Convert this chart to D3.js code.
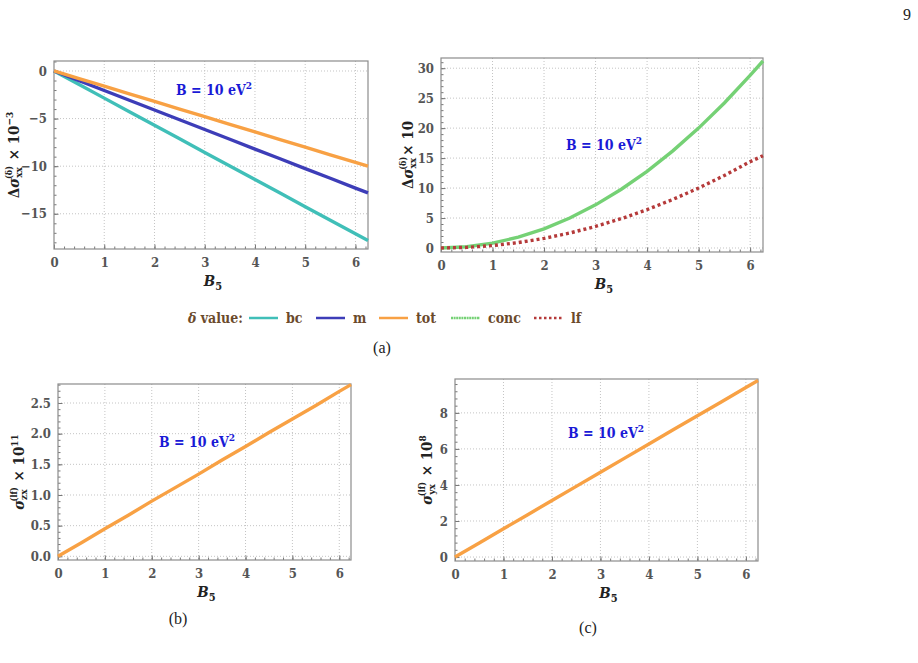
<!DOCTYPE html>
<html>
<head>
<meta charset="utf-8">
<script src="https://cdn.jsdelivr.net/npm/d3@7"></script>
<style>
  body { margin: 0; background: #fff; }
  svg { display: block; }
</style>
</head>
<body>
<div class="chart"></div>
<script>
// data
let b5 = [0, 0.5, 1, 1.5, 2, 2.5, 3, 3.5, 4, 4.5, 5, 5.5, 6, 6.25];
let bcValues   = [0, -1.42, -2.85, -4.27, -5.7, -7.12, -8.55, -9.97, -11.4, -12.82, -14.25, -15.67, -17.1, -17.8];
let mValues    = [0, -1.02, -2.05, -3.07, -4.1, -5.12, -6.15, -7.17, -8.2, -9.22, -10.25, -11.27, -12.3, -12.8];
let totValues  = [0, -0.8, -1.6, -2.4, -3.2, -4.0, -4.8, -5.6, -6.4, -7.2, -8.0, -8.8, -9.6, -10.0];
let concValues = [0, 0.2, 0.8, 1.8, 3.2, 5.0, 7.2, 9.8, 12.8, 16.2, 20.0, 24.2, 28.8, 31.2];
let lfValues   = [0, 0.1, 0.4, 0.9, 1.6, 2.5, 3.6, 4.9, 6.4, 8.1, 10.0, 12.1, 14.4, 15.4];
let zxValues   = [0, 0.22, 0.45, 0.67, 0.9, 1.12, 1.34, 1.57, 1.79, 2.02, 2.24, 2.46, 2.69, 2.8];
let yxValues   = [0, 0.78, 1.57, 2.35, 3.14, 3.92, 4.71, 5.49, 6.27, 7.06, 7.84, 8.62, 9.41, 9.8];

let xTicks = [0, 1, 2, 3, 4, 5, 6];
let yTicksA = [0, -5, -10, -15];
let yTicksConc = [0, 5, 10, 15, 20, 25, 30];
let yTicksZx = [0, 0.5, 1.0, 1.5, 2.0, 2.5];
let yTicksYx = [0, 2, 4, 6, 8];

let legendNames = ['bc', 'm', 'tot', 'conc', 'lf'];
let colors = {
  bc: '#40bfb8', m: '#3d3db8', tot: '#f8a144', conc: '#75d175', lf: '#b53a3a'
};

let tickFont = '"DejaVu Serif Condensed", "DejaVu Serif", serif';

let svg = d3.select('.chart').append('svg')
  .attr('width', 918)
  .attr('height', 663);

function drawPanel(p) {
  let x = d3.scaleLinear().domain([0, 6.25]).range([p.left, p.right]);
  let y = d3.scaleLinear().domain(p.yDomain).range([p.bottom, p.top]);
  let g = svg.append('g');

  // dotted grid
  g.append('g')
    .selectAll('line.gx')
    .data(xTicks.filter(d => d > 0))
    .enter().append('line')
    .attr('x1', d => x(d)).attr('x2', d => x(d))
    .attr('y1', p.top).attr('y2', p.bottom)
    .attr('stroke', '#c4c4c4').attr('stroke-width', 1)
    .attr('stroke-dasharray', '1,2');
  g.append('g')
    .selectAll('line.gy')
    .data(p.yTicks)
    .enter().append('line')
    .attr('x1', p.left).attr('x2', p.right)
    .attr('y1', d => y(d)).attr('y2', d => y(d))
    .attr('stroke', '#c4c4c4').attr('stroke-width', 1)
    .attr('stroke-dasharray', '1,2');

  // minor ticks (inside)
  let minorX = d3.range(0, 6.25, 0.2);
  g.append('g')
    .attr('transform', 'translate(0,' + p.bottom + ')')
    .call(d3.axisBottom(x).tickValues(minorX).tickSize(-2.5).tickFormat(''))
    .call(a => a.select('.domain').remove())
    .selectAll('line').attr('stroke', '#777');
  let minorY = d3.range(Math.ceil(p.yDomain[0] / p.minorStep) * p.minorStep, p.yDomain[1], p.minorStep);
  g.append('g')
    .attr('transform', 'translate(' + p.left + ',0)')
    .call(d3.axisLeft(y).tickValues(minorY).tickSize(-2.5).tickFormat(''))
    .call(a => a.select('.domain').remove())
    .selectAll('line').attr('stroke', '#777');

  // major axes
  let xAxis = g.append('g')
    .attr('transform', 'translate(0,' + p.bottom + ')')
    .call(d3.axisBottom(x).tickValues(xTicks).tickSize(-4.5).tickPadding(9).tickFormat(d3.format('d')));
  let yAxis = g.append('g')
    .attr('transform', 'translate(' + p.left + ',0)')
    .call(d3.axisLeft(y).tickValues(p.yTicks).tickSize(-4.5).tickPadding(7).tickFormat(p.format));
  [xAxis, yAxis].forEach(a => {
    a.attr('font-family', null).attr('font-size', null);
    a.select('.domain').remove();
    a.selectAll('line').attr('stroke', '#777');
    a.selectAll('text')
      .style('font-family', tickFont)
      .style('font-weight', 'bold')
      .style('font-size', '13px')
      .attr('fill', '#555');
  });

  // frame
  g.append('rect')
    .attr('x', p.left).attr('y', p.top)
    .attr('width', p.right - p.left).attr('height', p.bottom - p.top)
    .attr('fill', 'none').attr('stroke', '#8c8c8c').attr('stroke-width', 1.2);

  // curves
  let line = d3.line().x((d, i) => x(b5[i])).y(d => y(d));
  p.series.forEach(s => {
    g.append('path')
      .datum(s.values)
      .attr('d', line)
      .attr('fill', 'none')
      .attr('stroke', s.color)
      .attr('stroke-width', 3.4)
      .attr('stroke-dasharray', s.dash || null);
  });

  // B label
  let lab = g.append('text')
    .attr('x', p.labelX).attr('y', p.labelY)
    .attr('text-anchor', 'middle')
    .style('font-family', tickFont)
    .style('font-weight', 'bold')
    .style('font-size', '14px')
    .attr('fill', '#1a1ad6');
  lab.append('tspan').text('B = 10 eV');
  lab.append('tspan').text('2').style('font-size', '10px').attr('dy', -6);

  // x title
  let xt = g.append('text')
    .attr('x', (p.left + p.right) / 2 + 2).attr('y', p.bottom + 37)
    .attr('text-anchor', 'middle')
    .style('font-family', tickFont)
    .style('font-weight', 'bold')
    .style('font-size', '15px')
    .attr('fill', '#222');
  xt.append('tspan').text('B').style('font-style', 'italic');
  xt.append('tspan').text('5').style('font-size', '11px').attr('dy', 4);

  // y title
  let yt = g.append('text')
    .attr('transform', 'translate(' + p.yTitleX + ',' + (p.top + p.bottom) / 2 + ') rotate(-90)')
    .attr('text-anchor', 'middle')
    .style('font-family', tickFont)
    .style('font-weight', 'bold')
    .style('font-size', '15px')
    .attr('fill', '#222');
  p.yTitle(yt);
}

function sigmaTitle(pre, sub, sup, tail, tailSup) {
  return function(t) {
    if (pre) t.append('tspan').text(pre);
    t.append('tspan').text('σ').style('font-style', 'italic');
    t.append('tspan').text(sub).style('font-size', '10px').attr('dy', 3);
    t.append('tspan').text(sup).style('font-size', '9px').attr('dx', -sub.length * 6).attr('dy', -10);
    t.append('tspan').text(tail).attr('dy', 7).attr('dx', 1);
    if (tailSup) t.append('tspan').text(tailSup).style('font-size', '10px').attr('dy', -6);
  };
}

drawPanel({
  left: 54, right: 368, top: 61, bottom: 249,
  yDomain: [-18.7, 1.05], yTicks: yTicksA, minorStep: 1, format: d => d3.format('d')(d).replace('-', '−'),
  series: [
    { values: bcValues, color: colors.bc },
    { values: mValues, color: colors.m },
    { values: totValues, color: colors.tot }
  ],
  labelX: 214, labelY: 95, yTitleX: 19,
  yTitle: sigmaTitle('Δ', 'xx', '(δ)', ' × 10', '−3')
});

drawPanel({
  left: 441, right: 763, top: 58, bottom: 252,
  yDomain: [-0.67, 31.7], yTicks: yTicksConc, minorStep: 1, format: d3.format('d'),
  series: [
    { values: concValues, color: colors.conc },
    { values: lfValues, color: colors.lf, dash: '3,3' }
  ],
  labelX: 604, labelY: 150, yTitleX: 413,
  yTitle: sigmaTitle('Δ', 'xx', '(δ)', '× 10', null)
});

drawPanel({
  left: 58, right: 351, top: 384, bottom: 560,
  yDomain: [-0.06, 2.81], yTicks: yTicksZx, minorStep: 0.1, format: d3.format('.1f'),
  series: [{ values: zxValues, color: colors.tot }],
  labelX: 197, labelY: 447, yTitleX: 24,
  yTitle: sigmaTitle(null, 'zx', '(lf)', ' × 10', '11')
});

drawPanel({
  left: 455, right: 758, top: 379, bottom: 561,
  yDomain: [-0.22, 9.88], yTicks: yTicksYx, minorStep: 0.4, format: d3.format('d'),
  series: [{ values: yxValues, color: colors.tot }],
  labelX: 606, labelY: 438, yTitleX: 432,
  yTitle: sigmaTitle(null, 'yx', '(lf)', ' × 10', '8')
});

// legend
let legend = svg.append('g')
  .style('font-family', tickFont).style('font-weight', 'bold')
  .style('font-size', '14px').attr('fill', '#6b4a2c');
let lt = legend.append('text').attr('x', 188).attr('y', 323);
lt.append('tspan').text('δ').style('font-style', 'italic');
lt.append('tspan').text(' value:');
let legendPos = [249, 316, 379, 451, 534];
legendNames.forEach((name, i) => {
  legend.append('line')
    .attr('x1', legendPos[i]).attr('x2', legendPos[i] + 29)
    .attr('y1', 318).attr('y2', 318)
    .attr('stroke', colors[name])
    .attr('stroke-width', 2.5)
    .attr('stroke-dasharray', name === 'lf' ? '2.5,2.5' : (name === 'conc' ? '2,0.6' : null));
  legend.append('text')
    .attr('x', legendPos[i] + 37).attr('y', 323)
    .text(name);
});

// captions
let captions = [['(a)', 382, 353], ['(b)', 178, 624], ['(c)', 588, 633]];
svg.selectAll('text.cap')
  .data(captions)
  .enter().append('text')
  .attr('class', 'cap')
  .attr('x', d => d[1]).attr('y', d => d[2])
  .attr('text-anchor', 'middle')
  .style('font-family', 'Liberation Serif')
  .style('font-size', '16px')
  .attr('fill', '#222')
  .text(d => d[0]);

// page number
svg.append('text')
  .attr('x', 907).attr('y', 20)
  .attr('text-anchor', 'middle')
  .style('font-family', 'Liberation Serif')
  .style('font-size', '16px')
  .attr('fill', '#222')
  .text('9');
</script>
</body>
</html>
